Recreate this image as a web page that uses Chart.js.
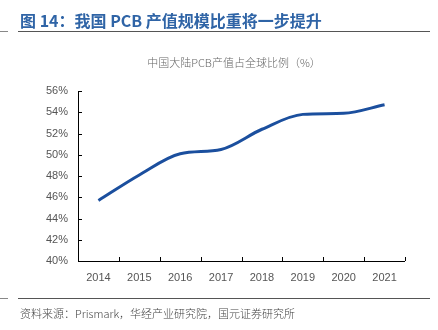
<!DOCTYPE html>
<html>
<head>
<meta charset="utf-8">
<script src="https://cdn.jsdelivr.net/npm/chart.js@4/dist/chart.umd.min.js"></script>
<style>
  html, body { margin: 0; padding: 0; background: #fff; }
  #wrap { position: relative; width: 438px; height: 330px; overflow: hidden; }
  #chart { position: absolute; left: 0; top: 0; }
  .title {
    position: absolute; left: 20px; top: 8px;
    font: bold 16px "Noto Sans CJK SC", sans-serif; color: #2f64a6; white-space: nowrap;
  }
  .rule { position: absolute; height: 1px; background: #555; }
  .sub {
    position: absolute; left: 0; width: 468px; top: 54px; text-align: center;
    font: 300 11px "Noto Sans CJK SC", sans-serif; color: #666; white-space: nowrap;
  }
  .source {
    position: absolute; left: 20px; top: 305px;
    font: 300 11px "Noto Sans CJK SC", sans-serif; color: #444; white-space: nowrap;
  }
</style>
</head>
<body>
<div id="wrap">
  <canvas id="chart" width="438" height="330"></canvas>
  <div class="title">图 14：我国 PCB 产值规模比重将一步提升</div>
  <div class="rule" style="left:0;width:8px;top:31px;background:#888"></div>
  <div class="rule" style="left:18px;width:412px;top:31px"></div>
  <div class="sub">中国大陆PCB产值占全球比例（%）</div>
  <div class="rule" style="left:0;width:8px;top:298px;background:#888"></div>
  <div class="rule" style="left:18px;width:412px;top:298px"></div>
  <div class="source">资料来源：Prismark，华经产业研究院，国元证券研究所</div>
</div>
<script>
const years = ["2014", "2015", "2016", "2017", "2018", "2019", "2020", "2021"];
const chinaShare = [45.7, 48.1, 50.1, 50.5, 52.4, 53.8, 53.9, 54.7];
const yMin = 40;
const yMax = 56;
const yStep = 2;

// small inward ticks on both axes, like the source figure
const innerTicks = {
  id: "innerTicks",
  afterDraw(chart) {
    const ctx = chart.ctx;
    const x = chart.scales.x;
    const y = chart.scales.y;
    const area = chart.chartArea;
    ctx.save();
    ctx.strokeStyle = "#000";
    ctx.lineWidth = 1;
    ctx.beginPath();
    // axis lines
    ctx.moveTo(area.left + 0.5, area.top);
    ctx.lineTo(area.left + 0.5, area.bottom + 0.5);
    ctx.lineTo(area.right, area.bottom + 0.5);
    // y ticks
    y.ticks.forEach((t, i) => {
      const py = Math.round(y.getPixelForTick(i)) + 0.5;
      ctx.moveTo(area.left, py);
      ctx.lineTo(area.left + 4, py);
    });
    // x ticks at category boundaries
    const half = (x.getPixelForValue(1) - x.getPixelForValue(0)) / 2;
    for (let i = 0; i < years.length; i++) {
      const px = Math.round(x.getPixelForValue(i) + half) + 0.5;
      ctx.moveTo(px, area.bottom);
      ctx.lineTo(px, area.bottom - 4);
    }
    ctx.stroke();
    ctx.restore();
  }
};

new Chart(document.getElementById("chart"), {
  type: "line",
  data: {
    labels: years,
    datasets: [{
      data: chinaShare,
      borderColor: "#1b4f9e",
      borderWidth: 3,
      pointRadius: 0,
      tension: 0.4,
      cubicInterpolationMode: "monotone",
      fill: false
    }]
  },
  options: {
    responsive: false,
    animation: false,
    layout: { padding: { left: 0, right: 33, top: 91, bottom: 0 } },
    plugins: { legend: { display: false }, tooltip: { enabled: false } },
    scales: {
      x: {
        offset: true,
        grid: { display: false, drawTicks: false },
        border: { display: false },
        ticks: {
          color: "#555",
          font: { family: "Liberation Sans", size: 11 },
          padding: 10,
          maxRotation: 0
        },
        afterFit(scale) { scale.height = 69; }
      },
      y: {
        min: yMin,
        max: yMax,
        grid: { display: false, drawTicks: false },
        border: { display: false },
        ticks: {
          stepSize: yStep,
          color: "#555",
          font: { family: "Liberation Sans", size: 11 },
          padding: 10,
          callback: v => v + "%"
        },
        afterFit(scale) { scale.width = 78; }
      }
    }
  },
  plugins: [innerTicks]
});
</script>
</body>
</html>
